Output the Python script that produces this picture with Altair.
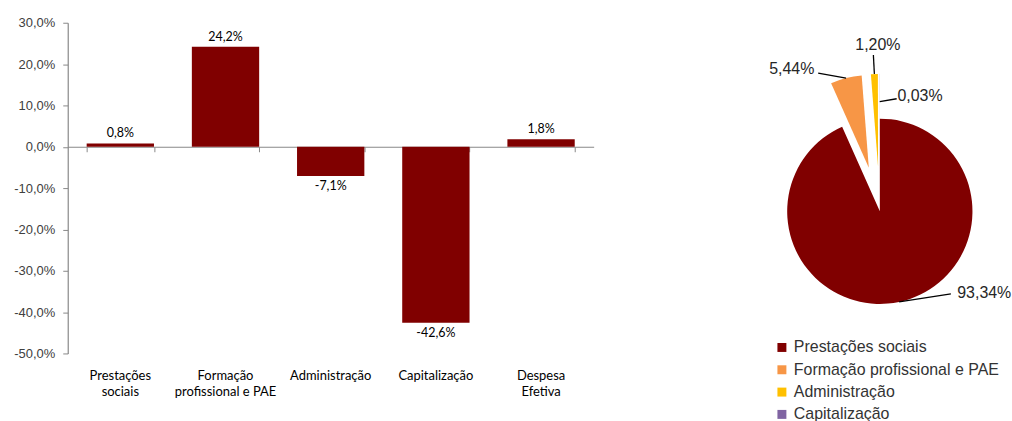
import json
import altair as alt
import pandas as pd

# ---------------- data ----------------
bar_categories = ["Prestações sociais", "Formação profissional e PAE",
                  "Administração", "Capitalização", "Despesa Efetiva"]
bar_values = [0.8, 24.2, -7.1, -42.6, 1.8]
bar_tick_lines = [["Prestações", "sociais"], ["Formação", "profissional e PAE"],
                  ["Administração"], ["Capitalização"], ["Despesa", "Efetiva"]]
y_ticks = [30, 20, 10, 0, -10, -20, -30, -40, -50]

pie_categories = ["Prestações sociais", "Formação profissional e PAE",
                  "Administração", "Capitalização"]
pie_shares = [93.34, 5.44, 1.20, 0.03]
pie_colors = ["#800000", "#F79646", "#FFC000", "#8064A2"]

bar_df = pd.DataFrame({"category": bar_categories, "value": bar_values})
pie_df = pd.DataFrame({"category": pie_categories, "share": pie_shares,
                       "order": list(range(len(pie_categories)))})

# ---------------- layout constants ----------------
W, H = 528, 332
ZERO_OFFSET = -H * 50 / 80  # zero line position from the bottom
CX, CY, R, EXPLODE = 815.3, 189.3, 93, 45

label_expr = " : ".join(
    f"datum.value == {json.dumps(c)} ? {json.dumps(l)}" for c, l in zip(bar_categories, bar_tick_lines)
) + " : datum.label"

pct1 = "(datum.value < 0 ? '-' : '') + replace(format(abs(datum.value), '.1f'), '.', ',') + '%'"

x_scale = alt.Scale(domain=bar_categories, paddingInner=0.36, paddingOuter=0.18)
y_scale = alt.Scale(domain=[-50, 30], nice=False, zero=False)

y_axis = alt.Axis(values=y_ticks, labelExpr=pct1,
                  grid=False, tickSize=5, tickColor="#888888", domainColor="#888888",
                  domainWidth=1.2, labelFont="Liberation Sans", labelFontSize=13,
                  labelColor="#404040", labelPadding=8)

bars = alt.Chart(bar_df).mark_bar(color="#800000").encode(
    x=alt.X("category:N", sort=bar_categories, scale=x_scale, title=None,
            axis=alt.Axis(orient="bottom", offset=ZERO_OFFSET, labels=False,
                          tickBand="extent", tickSize=5, tickColor="#888888",
                          domainColor="#888888", domainWidth=1.2, grid=False)),
    y=alt.Y("value:Q", scale=y_scale, title=None, axis=y_axis),
)

txt_common = dict(font="Lato", fontSize=12.5, color="#000000")
pos_text = alt.Chart(bar_df).transform_filter("datum.value >= 0").transform_calculate(
    lbl=pct1).mark_text(baseline="bottom", dy=-3, **txt_common).encode(
    x=alt.X("category:N", sort=bar_categories, scale=x_scale, title=None,
            axis=alt.Axis(orient="bottom", domain=False, ticks=False, tickSize=0,
                          labelPadding=16, labelExpr=label_expr, labelFont="Lato",
                          labelFontSize=13, labelColor="#000000", labelLineHeight=16.5,
                          labelAngle=0, labelBaseline="top")),
    y=alt.Y("value:Q", scale=y_scale, title=None, axis=y_axis),
    text="lbl:N",
)
neg_text = alt.Chart(bar_df).transform_filter("datum.value < 0").transform_calculate(
    lbl=pct1).mark_text(baseline="top", dy=4, **txt_common).encode(
    x=alt.X("category:N", sort=bar_categories, scale=x_scale, axis=None),
    y=alt.Y("value:Q", scale=y_scale, title=None, axis=y_axis),
    text="lbl:N",
)

bar_group = alt.layer(bars, pos_text, neg_text).resolve_axis(x="independent")

# ---------------- pie ----------------
ldx = {"Prestações sociais": 52, "Formação profissional e PAE": -28, "Administração": -1, "Capitalização": 17}
ldy = {"Prestações sociais": -8, "Formação profissional e PAE": -5, "Administração": -19, "Capitalização": -3}
tdx = {"Prestações sociais": 33.5, "Formação profissional e PAE": -26.5, "Administração": 4.5, "Capitalização": 23.5}
tdy = {"Prestações sociais": -1, "Formação profissional e PAE": -4, "Administração": -10, "Capitalização": -3}
rstart = {"Prestações sociais": R, "Formação profissional e PAE": R, "Administração": R, "Capitalização": 65}


def lookup(d):
    return " : ".join(f"datum.category == {json.dumps(k)} ? {v}" for k, v in d.items()) + " : 0"


pie_base = alt.Chart(pie_df).transform_window(
    cum="sum(share)", sort=[alt.SortField("order")], frame=[None, 0]
).transform_joinaggregate(total="sum(share)").transform_calculate(
    a0="2*PI*(datum.cum - datum.share)/datum.total",
    a1="2*PI*datum.cum/datum.total",
).transform_calculate(
    mid="(datum.a0 + datum.a1)/2",
    ex=f"datum.category == 'Prestações sociais' ? 0 : {EXPLODE}",
).transform_calculate(
    px=f"{CX} + datum.ex*sin(datum.mid)",
    py=f"{CY} - datum.ex*cos(datum.mid)",
).transform_calculate(
    sx=f"datum.px + ({lookup(rstart)})*sin(datum.mid)",
    sy=f"datum.py - ({lookup(rstart)})*cos(datum.mid)",
).transform_calculate(
    lx=f"datum.sx + ({lookup(ldx)})",
    ly=f"datum.sy + ({lookup(ldy)})",
).transform_calculate(
    tx=f"datum.lx + ({lookup(tdx)})",
    ty=f"datum.ly + ({lookup(tdy)})",
    lbl="replace(format(datum.share, '.2f'), '.', ',') + '%'",
)

arcs = pie_base.mark_arc(outerRadius=R).encode(
    x=alt.X("px:Q", scale=None, axis=None),
    y=alt.Y("py:Q", scale=None, axis=None),
    theta=alt.Theta("a0:Q", scale=None),
    theta2="a1:Q",
    color=alt.Color("category:N", sort=pie_categories,
                    scale=alt.Scale(domain=pie_categories, range=pie_colors),
                    legend=alt.Legend(title=None, orient="none", legendX=709, legendY=318,
                                      symbolType="square", symbolSize=81, symbolStrokeWidth=0,
                                      labelFont="Liberation Sans", labelFontSize=16,
                                      labelColor="#333333", labelOffset=4, rowPadding=6.4,
                                      padding=0, labelLimit=400)),
    order=alt.Order("order:Q"),
)

leaders = pie_base.mark_rule(color="#000000", strokeWidth=1.3).encode(
    x=alt.X("sx:Q", scale=None, axis=None),
    y=alt.Y("sy:Q", scale=None, axis=None),
    x2="lx:Q",
    y2="ly:Q",
)

pie_labels = pie_base.mark_text(font="Liberation Sans", fontSize=16, color="#262626",
                                align="center", baseline="middle").encode(
    x=alt.X("tx:Q", scale=None, axis=None),
    y=alt.Y("ty:Q", scale=None, axis=None),
    text="lbl:N",
)

pie_group = alt.layer(arcs, leaders, pie_labels)

chart = alt.layer(bar_group, pie_group).resolve_scale(
    x="independent", y="independent"
).properties(
    width=W, height=H,
    background="white",
    padding={"left": 13, "top": 16, "right": 0, "bottom": 0},
).configure_view(stroke=None)

chart.save("out.html", embed_options={"renderer": "svg", "actions": False})
